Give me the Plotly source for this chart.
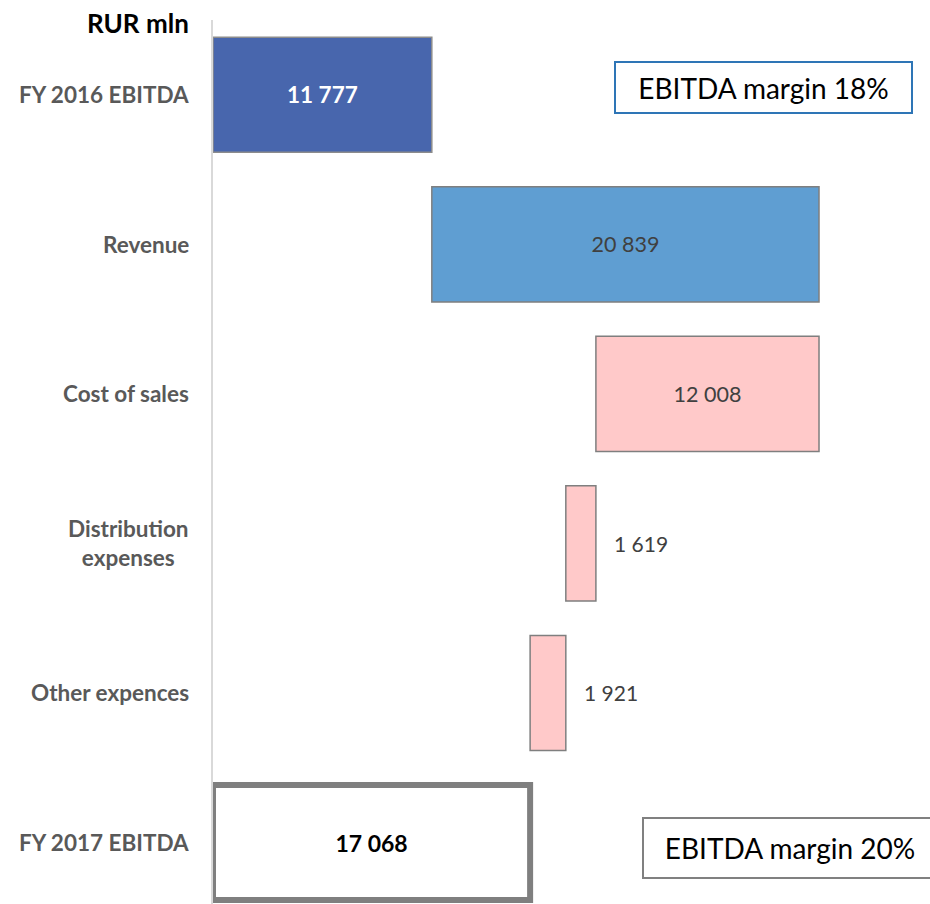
import plotly.graph_objects as go

categories = ["FY 2016 EBITDA", "Revenue", "Cost of sales", "Distribution<br>expenses", "Other expences", "FY 2017 EBITDA"]
values = [11777, 20839, -12008, -1619, -1921, 17068]
kinds = ["total", "up", "down", "down", "down", "total"]
margin_labels = ["EBITDA margin 18%", "EBITDA margin 20%"]

# compute floating bar bases from the running total
bases, lengths = [], []
running = 0
for v, k in zip(values, kinds):
    if k == "total":
        bases.append(0)
        lengths.append(v)
        running = v
    elif v >= 0:
        bases.append(running)
        lengths.append(v)
        running += v
    else:
        running += v
        bases.append(running)
        lengths.append(-v)

FONT = "Lato"
W, H = 930, 904
L, T = 213, 20
PW, PH = W - L, H - T
SCALE = 0.01858  # px per unit
XMAX = PW / SCALE

fill = ["#4866ad", "#5f9ed2", "#ffc9c9", "#ffc9c9", "#ffc9c9", "#ffffff"]
line_c = ["#8c8c8c", "#7f7f7f", "#7f7f7f", "#7f7f7f", "#7f7f7f", "#7f7f7f"]
line_w = [1.5, 1.5, 1.5, 1.5, 1.5, 6]
inside = [True, True, True, False, False, True]
tcolor = ["#ffffff", "#404040", "#404040", "#404040", "#404040", "#000000"]
tsize = [22.5, 21.5, 21.5, 21, 21, 23]

texts = []
for i, l in enumerate(lengths):
    s = f"{l:,}".replace(",", " ")
    if i in (0, 5):
        s = f"<b>{s}</b>"
    texts.append(s if inside[i] else "")

fig = go.Figure()
fig.add_trace(go.Bar(
    y=list(range(len(categories))),
    x=lengths,
    base=bases,
    orientation="h",
    width=0.77,
    marker=dict(color=fill, line=dict(color=line_c, width=line_w)),
    text=texts,
    textposition="inside",
    insidetextanchor="middle",
    textangle=0,
    insidetextfont=dict(color=tcolor, size=tsize, family=FONT),
    hoverinfo="skip",
))

annotations = []
# category labels
for i, c in enumerate(categories):
    annotations.append(dict(
        x=0, y=i, xref="x", yref="y", xanchor="right", yanchor="middle",
        xshift=-22, text=f"<b>{c}</b>", showarrow=False, align="center",
        font=dict(family=FONT, size=22.5, color="#595959"),
    ))
# outside labels for small bars
for i in range(len(categories)):
    if not inside[i]:
        s = f"{lengths[i]:,}".replace(",", " ")
        annotations.append(dict(
            x=bases[i] + lengths[i], y=i, xref="x", yref="y",
            xanchor="left", yanchor="middle", xshift=16,
            text=s, showarrow=False,
            font=dict(family=FONT, size=tsize[i], color="#404040"),
        ))

def px(xp):
    return (xp - L) / PW

def py(yp):
    return 1 - (yp - T) / PH

annotations.append(dict(
    x=0, xref="x", xshift=-22, xanchor="right",
    y=py(23), yref="paper", yanchor="middle",
    text="<b>RUR mln</b>", showarrow=False,
    font=dict(family=FONT, size=26, color="#000000"),
))
# margin boxes
annotations.append(dict(
    x=px(763.5), y=py(87.5), xref="paper", yref="paper",
    xanchor="center", yanchor="middle", width=295, height=49,
    text=margin_labels[0], showarrow=False,
    bordercolor="#2e75b6", borderwidth=2, borderpad=0, bgcolor="#ffffff",
    font=dict(family=FONT, size=28, color="#000000"),
))
annotations.append(dict(
    x=px(790), y=py(848), xref="paper", yref="paper",
    xanchor="center", yanchor="middle", width=292, height=58,
    text=margin_labels[1], showarrow=False,
    bordercolor="#808080", borderwidth=2, borderpad=0, bgcolor="#ffffff",
    font=dict(family=FONT, size=28, color="#000000"),
))

fig.update_layout(
    width=W, height=H,
    margin=dict(l=L, r=0, t=T, b=0, pad=0),
    paper_bgcolor="#ffffff", plot_bgcolor="#ffffff",
    showlegend=False,
    bargap=0.23,
    annotations=annotations,
    font=dict(family=FONT),
)
fig.update_xaxes(range=[0, XMAX], visible=False, showgrid=False, zeroline=False, fixedrange=True)
y_bottom = 5 + (H - 842.5) / 149.55
fig.update_yaxes(
    range=[y_bottom, -0.5], showticklabels=False, ticks="", showgrid=False,
    zeroline=False, showline=True, linecolor="#d9d9d9", linewidth=2, fixedrange=True,
)

fig.write_html("out.html")
